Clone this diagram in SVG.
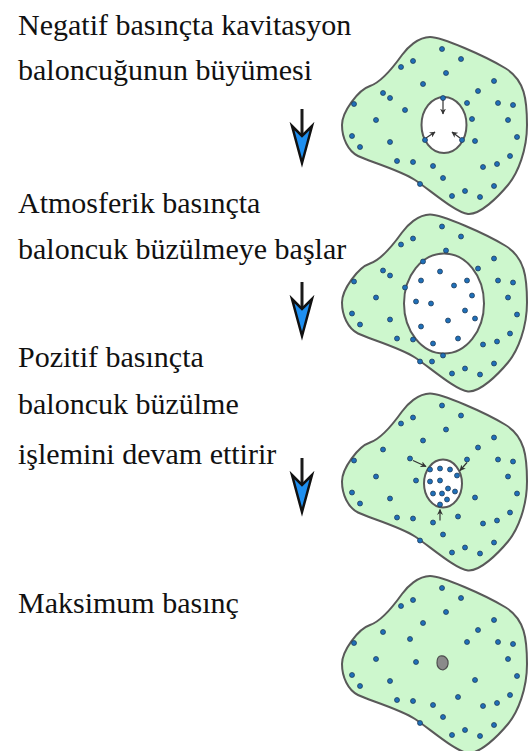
<svg xmlns="http://www.w3.org/2000/svg" width="528" height="751" viewBox="0 0 528 751">
  <defs>
    <!-- irregular cell outline with its fill, local coordinates -->
    <path id="cellShape" fill="#cdf7cd" stroke="#595959" stroke-width="2" d="M100,7 C112,7 155,26 175,38 S197,70 197,95 S188,143 178,155 S150,185 138,184 S100,160 85,150 S38,131 28,126 S12,108 12,95 S28,60 40,56 S67,32 72,25 S88,7 100,7 Z"/>
    <circle id="d" r="2.5" fill="#1f6fb8" stroke="#1d3550" stroke-width="0.7"/>
    <!-- dots shared by every cell -->
    <g id="baseDots">
      <use href="#d" x="112" y="19"/><use href="#d" x="83" y="31"/><use href="#d" x="71" y="37"/>
      <use href="#d" x="131" y="29"/><use href="#d" x="116" y="43"/><use href="#d" x="93" y="54"/>
      <use href="#d" x="164" y="51"/><use href="#d" x="148" y="61"/><use href="#d" x="53" y="63"/>
      <use href="#d" x="24" y="74"/><use href="#d" x="137" y="73"/><use href="#d" x="168" y="73"/>
      <use href="#d" x="183" y="75"/><use href="#d" x="46" y="90"/><use href="#d" x="178" y="90"/>
      <use href="#d" x="22" y="106"/><use href="#d" x="30" y="117"/><use href="#d" x="60" y="112"/>
      <use href="#d" x="145" y="111"/><use href="#d" x="187" y="107"/><use href="#d" x="180" y="126"/>
      <use href="#d" x="67" y="131"/><use href="#d" x="83" y="132"/><use href="#d" x="103" y="136"/>
      <use href="#d" x="153" y="137"/><use href="#d" x="167" y="134"/><use href="#d" x="113" y="148"/>
      <use href="#d" x="90" y="154"/><use href="#d" x="164" y="156"/><use href="#d" x="135" y="161"/>
      <use href="#d" x="122" y="166"/><use href="#d" x="150" y="167"/>
    </g>
    <!-- step arrow: dark shaft with a notched blue head -->
    <g id="stepArrow">
      <line x1="302" y1="0" x2="302" y2="27" stroke="#1a1a1a" stroke-width="3"/>
      <path d="M292,17 L302,27 L312,17 L302,54 Z" fill="#1e8ff0" stroke="#111" stroke-width="2.5" stroke-linejoin="miter"/>
    </g>
    <marker id="tiny" viewBox="0 0 10 10" refX="9" refY="5" markerWidth="5" markerHeight="5" orient="auto">
      <path d="M0,0 L10,5 L0,10 L3,5 Z" fill="#333"/>
    </marker>
  </defs>

  <!-- step labels -->
  <g id="labels" fill="#111">
    <text x="18" y="35" font-family="Liberation Serif" font-size="30">Negatif basınçta kavitasyon</text>
    <text x="18" y="80" font-family="Liberation Serif" font-size="30">baloncuğunun büyümesi</text>
    <text x="18" y="213" font-family="Liberation Serif" font-size="30">Atmosferik basınçta</text>
    <text x="18" y="259" font-family="Liberation Serif" font-size="30">baloncuk büzülmeye başlar</text>
    <text x="18" y="367" font-family="Liberation Serif" font-size="30">Pozitif basınçta</text>
    <text x="18" y="414" font-family="Liberation Serif" font-size="30">baloncuk büzülme</text>
    <text x="18" y="464" font-family="Liberation Serif" font-size="30">işlemini devam ettirir</text>
    <text x="18" y="613" font-family="Liberation Serif" font-size="30">Maksimum basınç</text>
  </g>

  <!-- cell 1: growing cavity -->
  <g id="cell1" transform="translate(330,30)">
    <use href="#cellShape"/>
    <ellipse cx="114" cy="95" rx="22.5" ry="28" fill="#fff" stroke="#595959" stroke-width="2"/>
    <use href="#baseDots"/>
    <use href="#d" x="60" y="68"/><use href="#d" x="75" y="80"/><use href="#d" x="142" y="89"/>
    <use href="#d" x="113" y="68"/><use href="#d" x="95" y="110"/><use href="#d" x="132" y="110"/>
    <g stroke="#333" stroke-width="1.2" fill="none">
      <line x1="113" y1="70" x2="113" y2="84" marker-end="url(#tiny)"/>
      <line x1="96" y1="108" x2="105" y2="102" marker-end="url(#tiny)"/>
      <line x1="130" y1="108" x2="122" y2="102" marker-end="url(#tiny)"/>
    </g>
  </g>

  <!-- cell 2: large bubble -->
  <g id="cell2" transform="translate(330,207.5)">
    <use href="#cellShape"/>
    <ellipse cx="114" cy="96" rx="40" ry="50" fill="#fff" stroke="#595959" stroke-width="2"/>
    <use href="#baseDots"/>
    <use href="#d" x="60" y="68"/><use href="#d" x="75" y="80"/><use href="#d" x="142" y="88"/>
    <use href="#d" x="110" y="64"/><use href="#d" x="91" y="73"/><use href="#d" x="124" y="78"/>
    <use href="#d" x="86" y="94"/><use href="#d" x="101" y="96"/><use href="#d" x="135" y="103"/>
    <use href="#d" x="118" y="113"/><use href="#d" x="91" y="119"/><use href="#d" x="128" y="131"/>
    <use href="#d" x="102" y="154"/>
  </g>

  <!-- cell 3: shrinking bubble -->
  <g id="cell3" transform="translate(330,386.5)">
    <use href="#cellShape"/>
    <ellipse cx="113" cy="97" rx="19" ry="24" fill="#fff" stroke="#595959" stroke-width="2"/>
    <use href="#baseDots"/>
    <use href="#d" x="80" y="72"/><use href="#d" x="86" y="94"/><use href="#d" x="128" y="130"/>
    <use href="#d" x="100" y="83"/><use href="#d" x="110" y="82"/><use href="#d" x="120" y="83"/>
    <use href="#d" x="127" y="89"/><use href="#d" x="100" y="95"/><use href="#d" x="110" y="94"/>
    <use href="#d" x="118" y="102"/><use href="#d" x="103" y="107"/><use href="#d" x="112" y="107"/>
    <use href="#d" x="125" y="105"/><use href="#d" x="117" y="113"/><use href="#d" x="110" y="118"/>
    <g stroke="#333" stroke-width="1.2" fill="none">
      <line x1="83" y1="74" x2="96" y2="80" marker-end="url(#tiny)"/>
      <line x1="137" y1="76" x2="130" y2="84" marker-end="url(#tiny)"/>
      <line x1="110" y1="134" x2="110" y2="123" marker-end="url(#tiny)"/>
    </g>
  </g>

  <!-- cell 4: collapsed bubble -->
  <g id="cell4" transform="translate(330,569)">
    <use href="#cellShape"/>
    <use href="#baseDots"/>
    <use href="#d" x="80" y="70"/><use href="#d" x="86" y="93"/><use href="#d" x="128" y="128"/>
    <path d="M110,87 Q116,86 118,92 Q119,99 113,101 Q107,100 107,94 Q107,88 110,87 Z" fill="#8a8a8a" stroke="#4d4d4d" stroke-width="1.2"/>
  </g>

  <!-- step arrows -->
  <g id="connectors">
    <use href="#stepArrow" y="109"/>
    <use href="#stepArrow" y="282"/>
    <use href="#stepArrow" y="458"/>
  </g>
</svg>
